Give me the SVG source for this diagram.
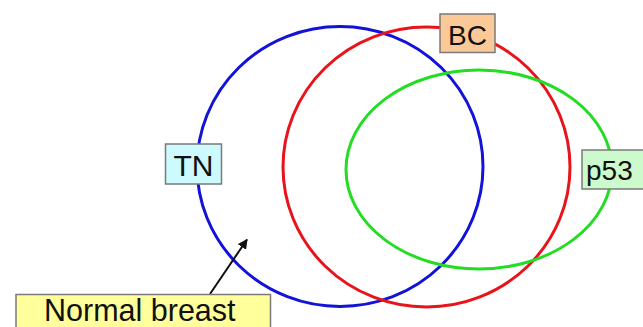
<svg xmlns="http://www.w3.org/2000/svg" width="643" height="327" viewBox="0 0 643 327">
  <defs>
    <style>
      .set { fill: none; stroke-width: 3; }
      .box { stroke: #7a7a7a; stroke-width: 1.5; }
      .lbl { font-family: "Liberation Sans", Arial, sans-serif; fill: #111; }
      .conn { stroke: #111; stroke-width: 2; fill: none; }
    </style>
    <marker id="arrow" viewBox="0 0 10 10" refX="9" refY="5" markerWidth="5" markerHeight="5" orient="auto" markerUnits="strokeWidth">
      <path d="M0,0 L10,5 L0,10 z" fill="#111"/>
    </marker>
  </defs>
  <rect width="643" height="327" fill="#ffffff"/>
  <g id="set-TN">
    <ellipse class="set" cx="340" cy="166.5" rx="143" ry="140" stroke="#1212d8"/>
  </g>
  <g id="set-BC">
    <ellipse class="set" cx="426.5" cy="167" rx="143.5" ry="140" stroke="#e8141c"/>
  </g>
  <g id="set-p53">
    <ellipse class="set" cx="479" cy="169.5" rx="133" ry="99.5" stroke="#22dd22"/>
  </g>
  <g id="connectors">
    <line class="conn" x1="210" y1="294" x2="247" y2="239.5" marker-end="url(#arrow)"/>
  </g>
  <g id="label-BC">
    <rect class="box" x="440" y="14" width="55" height="38.5" fill="#fbc997"/>
    <text class="lbl" x="448" y="44.5" font-size="28">BC</text>
  </g>
  <g id="label-TN">
    <rect class="box" x="165.5" y="144" width="56" height="40" fill="#ccfaff"/>
    <text class="lbl" x="173.5" y="176" font-size="30">TN</text>
  </g>
  <g id="label-p53">
    <rect class="box" x="582" y="150" width="64" height="39" fill="#ccfacc"/>
    <text class="lbl" x="586" y="179.5" font-size="28">p53</text>
  </g>
  <g id="label-normal">
    <rect class="box" x="16" y="294.5" width="254.5" height="40" fill="#ffff9c"/>
    <text class="lbl" x="44" y="320.5" font-size="30.5">Normal breast</text>
  </g>
</svg>
